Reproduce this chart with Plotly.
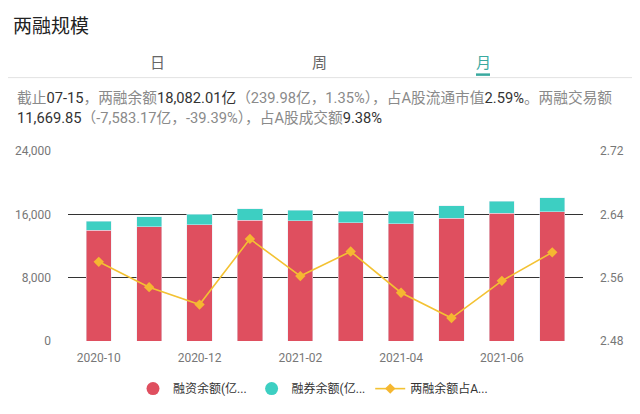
import plotly.graph_objects as go

# ---- data ----
months = ["2020-10", "2020-11", "2020-12", "2021-01", "2021-02", "2021-03",
          "2021-04", "2021-05", "2021-06", "2021-07"]
margin_balance = [14010, 14430, 14690, 15250, 15190, 14940, 14820, 15500, 16130, 16300]
short_balance = [1100, 1240, 1310, 1460, 1350, 1480, 1600, 1590, 1510, 1780]
ratio_pct = [2.580, 2.548, 2.526, 2.609, 2.562, 2.593, 2.541, 2.509, 2.556, 2.592]
tick_months = ["2020-10", "2020-12", "2021-02", "2021-04", "2021-06"]
left_ticks = [0, 8000, 16000, 24000]
right_ticks = [2.48, 2.56, 2.64, 2.72]
series_names = ["融资余额(亿...", "融券余额(亿...", "两融余额占A..."]

RED = "#df4f5f"
TEAL = "#3dcfc2"
YELLOW = "#f3c233"
FONT = "Roboto, 'Noto Sans CJK SC', sans-serif"

# page has an 8px body margin; the figure sits at (8, 8)
OFF = 8
W, H = 640 - OFF, 414 - OFF
# plot area in page pixels
L, R, T, B = 68, 583, 151, 341.3


def px(x):
    return (x - L) / (R - L)


def py(y):
    return (B - y) / (B - T)


fig = go.Figure()
fig.add_trace(go.Bar(x=months, y=margin_balance, marker_color=RED, showlegend=False,
                     name=series_names[0]))
fig.add_trace(go.Bar(x=months, y=short_balance, marker_color=TEAL, showlegend=False,
                     name=series_names[1]))
fig.add_trace(go.Scatter(x=months, y=ratio_pct, yaxis="y2", mode="lines+markers",
                         line=dict(color=YELLOW, width=1.6),
                         marker=dict(symbol="diamond", size=8, color="#f5b731"),
                         name=series_names[2], showlegend=False))

# legend entries (circle symbols as in reference)
fig.add_trace(go.Scatter(x=[None], y=[None], mode="markers",
                         marker=dict(symbol="circle", size=13, color=RED),
                         name=series_names[0]))
fig.add_trace(go.Scatter(x=[None], y=[None], mode="markers",
                         marker=dict(symbol="circle", size=13, color=TEAL),
                         name=series_names[1]))
fig.add_trace(go.Scatter(x=[None], y=[None], mode="lines+markers",
                         line=dict(color=YELLOW, width=1.6),
                         marker=dict(symbol="diamond", size=8, color="#f5b731"),
                         name=series_names[2]))

line1 = ("<span style='color:#8a8a8a'>截止</span>07-15"
         "<span style='color:#8a8a8a'>，两融余额</span>18,082.01亿"
         "<span style='color:#8a8a8a'>（239.98亿，1.35%），占A股流通市值</span>2.59%"
         "<span style='color:#8a8a8a'>。两融交易额</span>")
line2 = ("11,669.85<span style='color:#8a8a8a'>（-7,583.17亿，-39.39%），占A股成交额</span>9.38%")

annotations = [
    dict(text="两融规模", x=px(11), y=py(26), xanchor="left", yanchor="middle",
         font=dict(size=19, color="#222222", family=FONT)),
    dict(text="日", x=px(157), y=py(63), xanchor="center", yanchor="middle",
         font=dict(size=15, color="#666666", family=FONT)),
    dict(text="周", x=px(319), y=py(63), xanchor="center", yanchor="middle",
         font=dict(size=15, color="#666666", family=FONT)),
    dict(text="月", x=px(483), y=py(63), xanchor="center", yanchor="middle",
         font=dict(size=15, color="#3aa99f", family=FONT)),
    dict(text=line1, x=px(15), y=py(98), xanchor="left", yanchor="middle",
         font=dict(size=14.7, color="#333333", family=FONT)),
    dict(text=line2, x=px(15), y=py(118), xanchor="left", yanchor="middle",
         font=dict(size=14.7, color="#333333", family=FONT)),
]
for a in annotations:
    a.update(xref="paper", yref="paper", showarrow=False)

shapes = [
    dict(type="line", xref="paper", yref="paper", x0=px(0), x1=px(640),
         y0=py(77.5), y1=py(77.5), line=dict(color="#e2e2e2", width=1)),
    dict(type="line", xref="paper", yref="paper", x0=px(476), x1=px(490),
         y0=py(74.5), y1=py(74.5), line=dict(color="#3aa99f", width=2.5)),
]

fig.update_layout(
    width=W, height=H,
    margin=dict(l=L - OFF, r=640 - R, t=T - OFF, b=414 - B, pad=0, autoexpand=False),
    paper_bgcolor="white", plot_bgcolor="white",
    barmode="stack", bargap=0.5,
    font=dict(family=FONT, color="#777777", size=12),
    xaxis=dict(type="category", tickvals=tick_months, ticktext=tick_months,
               showgrid=False, showline=False, ticks="", zeroline=False, automargin=False,
               ticklabelstandoff=8, tickfont=dict(size=12, color="#777777")),
    yaxis=dict(range=[0, 24000], tickvals=left_ticks, tickformat=",", automargin=False,
               showgrid=True, gridcolor="#333333", gridwidth=1, zeroline=False,
               ticks="", ticklabelstandoff=16, tickfont=dict(size=12, color="#777777")),
    yaxis2=dict(range=[2.48, 2.72], tickvals=right_ticks, tickformat=".2f",
                overlaying="y", side="right", showgrid=False, zeroline=False,
                automargin=False,
                ticks="", ticklabelstandoff=16, tickfont=dict(size=12, color="#777777")),
    legend=dict(orientation="h", x=px(313), xanchor="center", y=py(389), yanchor="middle",
                font=dict(size=12, color="#333333", family=FONT), itemwidth=30,
                traceorder="normal", bgcolor="rgba(0,0,0,0)"),
    annotations=annotations, shapes=shapes,
)

fig.write_html("out.html")
